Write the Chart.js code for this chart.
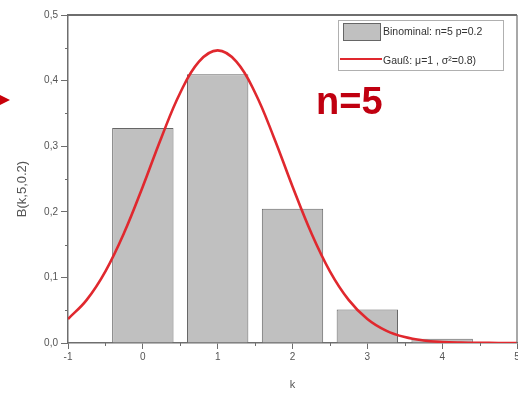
<!DOCTYPE html>
<html>
<head>
<meta charset="utf-8">
<script src="https://cdn.jsdelivr.net/npm/chart.js@4"></script>
<style>
  html, body { margin: 0; padding: 0; background: #fff; }
  #wrap { position: relative; width: 518px; height: 393px; overflow: hidden; }
  #arrow {
    position: absolute; left: -4px; top: 93px; width: 0; height: 0;
    border-top: 7px solid transparent; border-bottom: 7px solid transparent;
    border-left: 14px solid #c8000a;
  }
  #nlabel {
    position: absolute; left: 316px; top: 80px;
    font: bold 38px "Liberation Sans", Arial, sans-serif; color: #c00010;
  }
</style>
</head>
<body>
<div id="wrap">
  <canvas id="c" width="518" height="393"></canvas>
  <div id="arrow"></div>
  <div id="nlabel">n=5</div>
</div>
<script>
// ── Data ────────────────────────────────────────────────────────────────────
const binomK = [0, 1, 2, 3, 4];
const binomP = [0.3277, 0.4096, 0.2048, 0.0512, 0.0064];

const gaussX = [-1, -0.75, -0.5, -0.25, 0, 0.25, 0.5, 0.75, 1, 1.25, 1.5, 1.75, 2,
                2.25, 2.5, 2.75, 3, 3.25, 3.5, 3.75, 4, 4.25, 4.5, 4.75, 5];
const gaussY = [0.0366, 0.0658, 0.1093, 0.1680, 0.2387, 0.3138, 0.3815, 0.4289, 0.4460,
                0.4289, 0.3815, 0.3138, 0.2387, 0.1680, 0.1093, 0.0658, 0.0366, 0.0189,
                0.0090, 0.0039, 0.0016, 0.0006, 0.0002, 0.0001, 0.0000];

const xTicks = [-1, 0, 1, 2, 3, 4, 5];
const yTicks = [0, 0.1, 0.2, 0.3, 0.4, 0.5];

const binomLabel = 'Binominal: n=5 p=0.2';
const gaussLabel = 'Gauß: μ=1 , σ²=0.8)';
const yTitle = 'B(k,5,0.2)';

const AXIS = '#6e6e6e';
const TXT = '#555';
const FONT = '"Liberation Sans", Arial, sans-serif';

// ── Frame, minor ticks, y title and in-plot legend ──────────────────────────
const framePlugin = {
  id: 'frame',
  afterDraw(chart) {
    const { ctx, chartArea: a, scales: { x, y } } = chart;
    ctx.save();
    ctx.strokeStyle = AXIS;
    // top + right frame
    ctx.lineWidth = 2;
    ctx.beginPath();
    ctx.moveTo(a.left, a.top); ctx.lineTo(a.right, a.top);
    ctx.stroke();
    ctx.lineWidth = 1.2;
    ctx.beginPath();
    ctx.moveTo(a.right, a.top); ctx.lineTo(a.right, a.bottom);
    ctx.stroke();

    // minor ticks
    ctx.lineWidth = 1;
    for (let v = 0.05; v < 0.5; v += 0.1) {
      const py = Math.round(y.getPixelForValue(v)) + 0.5;
      ctx.beginPath(); ctx.moveTo(a.left - 3, py); ctx.lineTo(a.left, py); ctx.stroke();
    }
    for (let v = -0.5; v < 5; v += 1) {
      const px = Math.round(x.getPixelForValue(v)) + 0.5;
      ctx.beginPath(); ctx.moveTo(px, a.bottom); ctx.lineTo(px, a.bottom + 3); ctx.stroke();
    }

    // y title, sitting a little below the axis middle
    ctx.save();
    ctx.translate(22, 189);
    ctx.rotate(-Math.PI / 2);
    ctx.fillStyle = TXT;
    ctx.font = '13px ' + FONT;
    ctx.textAlign = 'center';
    ctx.textBaseline = 'middle';
    ctx.fillText(yTitle, 0, 0);
    ctx.restore();

    // legend box
    const bw = 165, bh = 50;
    const bx = a.right - 14 - bw, by = a.top + 5;
    ctx.fillStyle = '#fff';
    ctx.fillRect(bx, by, bw, bh);
    ctx.strokeStyle = '#b0b0b0';
    ctx.lineWidth = 1;
    ctx.strokeRect(bx + 0.5, by + 0.5, bw, bh);

    const ds = chart.data.datasets;
    const bar = ds.find(d => d.type === 'bar');
    const line = ds.find(d => d.type === 'line');

    ctx.fillStyle = bar.backgroundColor;
    ctx.fillRect(bx + 5, by + 3, 37, 17);
    ctx.strokeStyle = bar.borderColor;
    ctx.strokeRect(bx + 5.5, by + 3.5, 37, 17);

    ctx.strokeStyle = line.borderColor;
    ctx.lineWidth = 1.8;
    ctx.beginPath(); ctx.moveTo(bx + 2, by + 39); ctx.lineTo(bx + 44, by + 39); ctx.stroke();

    ctx.fillStyle = '#333';
    ctx.font = '10.5px ' + FONT;
    ctx.textBaseline = 'middle';
    ctx.fillText(bar.label, bx + 45, by + 12);
    ctx.fillText(line.label, bx + 45, by + 41);
    ctx.restore();
  }
};

// ── Chart ───────────────────────────────────────────────────────────────────
new Chart(document.getElementById('c'), {
  type: 'bar',
  data: {
    datasets: [
      {
        type: 'line',
        label: gaussLabel,
        data: gaussX.map((v, i) => ({ x: v, y: gaussY[i] })),
        borderColor: '#e0282e',
        borderWidth: 2.6,
        pointRadius: 0,
        tension: 0.4,
        order: 0
      },
      {
        type: 'bar',
        label: binomLabel,
        data: binomK.map((k, i) => ({ x: k, y: binomP[i] })),
        backgroundColor: '#c0c0c0',
        borderColor: '#666',
        borderWidth: 1,
        barPercentage: 0.82,
        categoryPercentage: 1,
        order: 1
      }
    ]
  },
  options: {
    responsive: false,
    animation: false,
    layout: { padding: { top: 15, right: 1, left: 0, bottom: 0 } },
    plugins: { legend: { display: false }, tooltip: { enabled: false } },
    scales: {
      x: {
        type: 'linear',
        min: -1, max: 5,
        offset: false,
        afterBuildTicks: s => { s.ticks = xTicks.map(v => ({ value: v })); },
        afterFit: s => { s.height = 50; s.paddingLeft = 0; s.paddingRight = 0; },
        grid: { display: true, drawOnChartArea: false, drawTicks: true, tickLength: 6, color: AXIS, offset: false },
        border: { color: AXIS, width: 1.5 },
        ticks: { color: TXT, font: { family: FONT, size: 10 }, padding: 2, maxRotation: 0, autoSkip: false },
        title: { display: true, text: 'k', color: TXT, font: { family: FONT, size: 11 }, padding: { top: 0, bottom: 1 } }
      },
      y: {
        min: 0, max: 0.5,
        afterBuildTicks: s => { s.ticks = yTicks.map(v => ({ value: v })); },
        afterFit: s => { s.width = 68; s.paddingTop = 0; s.paddingBottom = 0; },
        grid: { display: true, drawOnChartArea: false, drawTicks: true, tickLength: 7, color: AXIS },
        border: { color: AXIS, width: 1.5 },
        ticks: {
          color: TXT, font: { family: FONT, size: 10 }, padding: 3,
          callback: v => v.toFixed(1).replace('.', ',')
        },
        title: { display: false }
      }
    }
  },
  plugins: [framePlugin]
});
</script>
</body>
</html>
